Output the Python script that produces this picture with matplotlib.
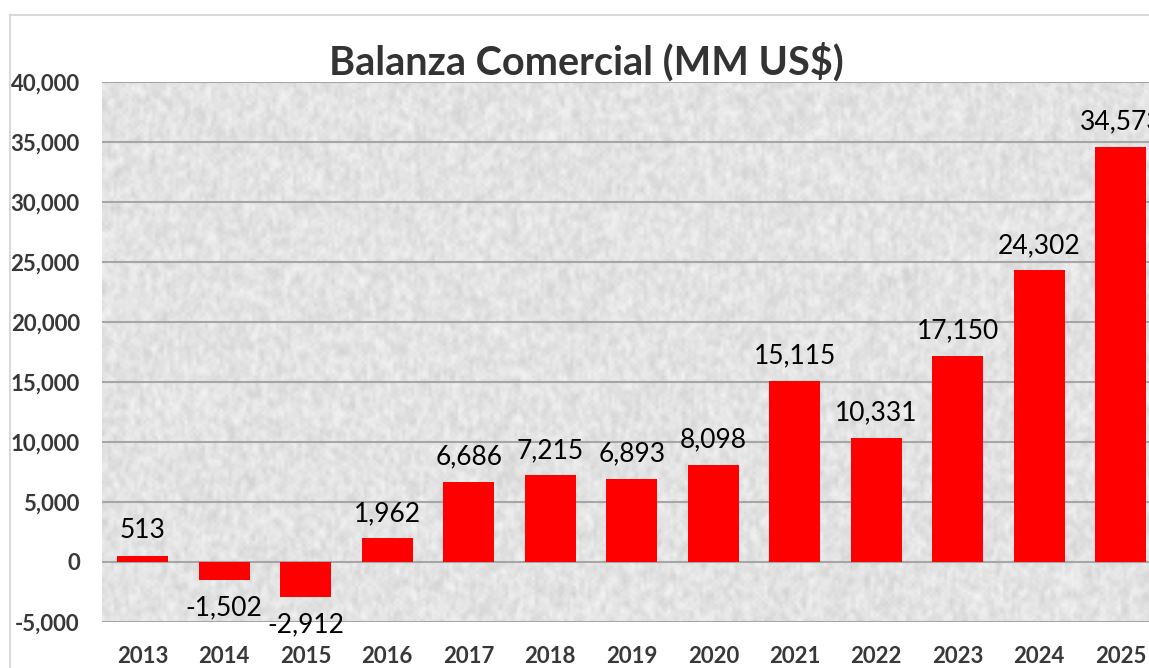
import numpy as np
import matplotlib as mpl
mpl.use('Agg')
import matplotlib.pyplot as plt
from matplotlib.lines import Line2D

YEARS = ["2013", "2014", "2015", "2016", "2017", "2018", "2019",
         "2020", "2021", "2022", "2023", "2024", "2025"]
BALANCE = [513, -1502, -2912, 1962, 6686, 7215, 6893,
           8098, 15115, 10331, 17150, 24302, 34573]
YTICKS = [-5000, 0, 5000, 10000, 15000, 20000, 25000, 30000, 35000, 40000]

FONT = 'Lato'
W, H = 1149, 668

fig = plt.figure(figsize=(W / 100, H / 100), dpi=100)
fig.patch.set_facecolor('white')

# plot area runs off the right edge like the original screenshot
ax = fig.add_axes([102 / W, 46 / H, (1161.5 - 102) / W, (622 - 82) / H])
ax.set_xlim(-0.5, len(YEARS) - 0.5)
ax.set_ylim(-5000, 40000)

# granite-like gray texture behind the bars (decoration only)
rng = np.random.default_rng(3)
tex = rng.random((180, 360))
tex = (tex + np.roll(tex, 1, 0) + np.roll(tex, 1, 1) + np.roll(tex, -1, 0)) / 4
tex = 0.81 + 0.16 * tex
ax.imshow(tex, cmap='gray', vmin=0, vmax=1, aspect='auto', interpolation='bilinear',
          extent=(-0.5, len(YEARS) - 0.5, -5000, 40000), zorder=0)

for y in YTICKS:
    ax.axhline(y, color='#a6a6a6', lw=1.5, zorder=1)

x = np.arange(len(YEARS))
ax.bar(x, BALANCE, width=0.62, color='#ff0000', zorder=2)

for xi, v in zip(x, BALANCE):
    if v >= 0:
        ax.annotate(f"{v:,}", (xi, v), xytext=(0, 9), textcoords='offset points',
                    ha='center', va='bottom', fontsize=19, family=FONT, color='black')
    else:
        ax.annotate(f"{v:,}", (xi, v), xytext=(0, -11), textcoords='offset points',
                    ha='center', va='top', fontsize=19, family=FONT, color='black')

ax.set_xticks(x)
ax.set_xticklabels(YEARS, fontsize=16, fontweight='bold', family=FONT, color='#383838')
ax.set_yticks(YTICKS)
ax.set_yticklabels([f"{t:,}" for t in YTICKS], fontsize=16, fontweight='bold',
                   family=FONT, color='#383838')
ax.tick_params(length=0)
ax.tick_params(axis='x', pad=17)
ax.tick_params(axis='y', pad=16)
for s in ax.spines.values():
    s.set_visible(False)

fig.text(586 / W, 1 - 62 / H, "Balanza Comercial (MM US$)", ha='center', va='center',
         fontsize=28.5, fontweight='bold', family=FONT, color='#333333')

# outer chart frame (left and top edges visible)
fig.add_artist(Line2D([9.5 / W, 9.5 / W], [0, 1 - 15 / H], transform=fig.transFigure,
                      color='#d9d9d9', lw=1.5))
fig.add_artist(Line2D([9.5 / W, 1], [1 - 15 / H, 1 - 15 / H], transform=fig.transFigure,
                      color='#d9d9d9', lw=1.5))

plt.savefig('out.png', dpi=100)
plt.close(fig)
